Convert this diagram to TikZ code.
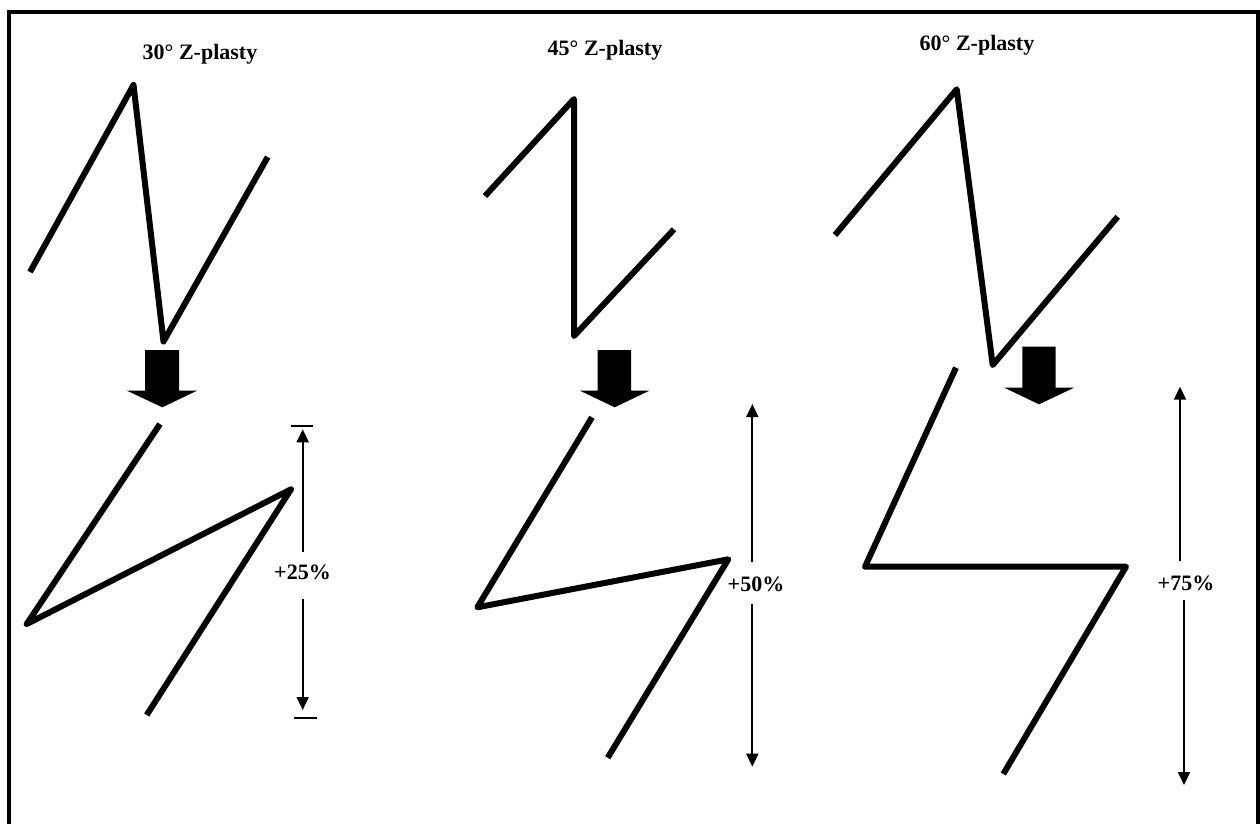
\documentclass[tikz,border=0pt]{standalone}
\usepackage{fontspec}
\setmainfont{Liberation Serif}
\usetikzlibrary{arrows.meta}
\begin{document}
\begin{tikzpicture}[x=1pt,y=-1pt,
  zig/.style={line width=6pt,line join=round,line cap=butt},
  blockarrow/.style={fill=black,draw=none},
  dimline/.style={line width=1.8pt,-{Triangle[length=13pt,width=12pt]}},
  endbar/.style={line width=1.8pt},
  lbl/.style={font=\fontsize{22}{26}\selectfont\bfseries,anchor=base,inner sep=0pt},
  frameline/.style={line width=4pt,line join=miter}]
\useasboundingbox (0,0) rectangle (1260,823);
% frame (open at bottom)
\draw[frameline] (9.3,830) -- (9.3,12) -- (1258,12) -- (1258,830);

% titles
\node[lbl] (t30) at (200,59) {30° Z-plasty};
\node[lbl] (t45) at (605,55) {45° Z-plasty};
\node[lbl] (t60) at (977,50) {60° Z-plasty};

% ---------- 30 degree ----------
\coordinate (a1) at (30,272);
\coordinate (a2) at (133.5,85);
\coordinate (a3) at (163.5,341.5);
\coordinate (a4) at (267.7,157);
\draw[zig] (a1) -- (a2) -- (a3) -- (a4);
\fill[blockarrow] (145,350) -- (179,350) -- (179,390.7) -- (197,390.7) -- (162.3,407.3) -- (127,390.7) -- (145,390.7) -- cycle;
\coordinate (b1) at (160,424);
\coordinate (b2) at (26.7,624);
\coordinate (b3) at (291,489.3);
\coordinate (b4) at (146.7,715);
\draw[zig] (b1) -- (b2) -- (b3) -- (b4);
\node[lbl] (p25) at (302.5,579) {+25\%};
\coordinate (d1a) at (302.7,551.7);
\coordinate (d1b) at (302.7,429.3);
\coordinate (d1c) at (302.7,599.3);
\coordinate (d1d) at (302.7,710);
\draw[dimline] (d1a) -- (d1b);
\draw[dimline] (d1c) -- (d1d);
\coordinate (e1a) at (291,425.7);
\coordinate (e1b) at (313,425.7);
\coordinate (e1c) at (294,718.3);
\coordinate (e1d) at (317,718.3);
\draw[endbar] (e1a) -- (e1b);
\draw[endbar] (e1c) -- (e1d);

% ---------- 45 degree ----------
\coordinate (c1) at (485,196);
\coordinate (c2) at (574,99);
\coordinate (c3) at (574,336);
\coordinate (c4) at (674,229.3);
\draw[zig] (c1) -- (c2) -- (c3) -- (c4);
\fill[blockarrow] (597.7,350) -- (631,350) -- (631,390.7) -- (649.3,390.7) -- (614.7,407.3) -- (580,390.7) -- (597.7,390.7) -- cycle;
\coordinate (f1) at (592,417.3);
\coordinate (f2) at (477.3,607.3);
\coordinate (f3) at (728.3,559.3);
\coordinate (f4) at (607.7,757.7);
\draw[zig] (f1) -- (f2) -- (f3) -- (f4);
\node[lbl] (p50) at (756,591) {+50\%};
\coordinate (d2a) at (752.3,561.7);
\coordinate (d2b) at (752.3,404);
\coordinate (d2c) at (752.3,604);
\coordinate (d2d) at (752.3,766.7);
\draw[dimline] (d2a) -- (d2b);
\draw[dimline] (d2c) -- (d2d);

% ---------- 60 degree ----------
\coordinate (g1) at (835,235);
\coordinate (g2) at (956.7,89.3);
\coordinate (g3) at (992.7,365);
\coordinate (g4) at (1117.7,216.7);
\draw[zig] (g1) -- (g2) -- (g3) -- (g4);
\fill[blockarrow] (1022.3,346.7) -- (1055.7,346.7) -- (1055.7,387.7) -- (1074,387.7) -- (1039,404.3) -- (1004.3,387.7) -- (1022.3,387.7) -- cycle;
\coordinate (h1) at (956,367.7);
\coordinate (h2) at (865,566.7);
\coordinate (h3) at (1126,566.7);
\coordinate (h4) at (1003.3,774);
\draw[zig] (h1) -- (h2) -- (h3) -- (h4);
\node[lbl] (p75) at (1186,590) {+75\%};
\coordinate (d3a) at (1180,561);
\coordinate (d3b) at (1180,386.7);
\coordinate (d3c) at (1184,600);
\coordinate (d3d) at (1184,785);
\draw[dimline] (d3a) -- (d3b);
\draw[dimline] (d3c) -- (d3d);
\end{tikzpicture}
\end{document}
